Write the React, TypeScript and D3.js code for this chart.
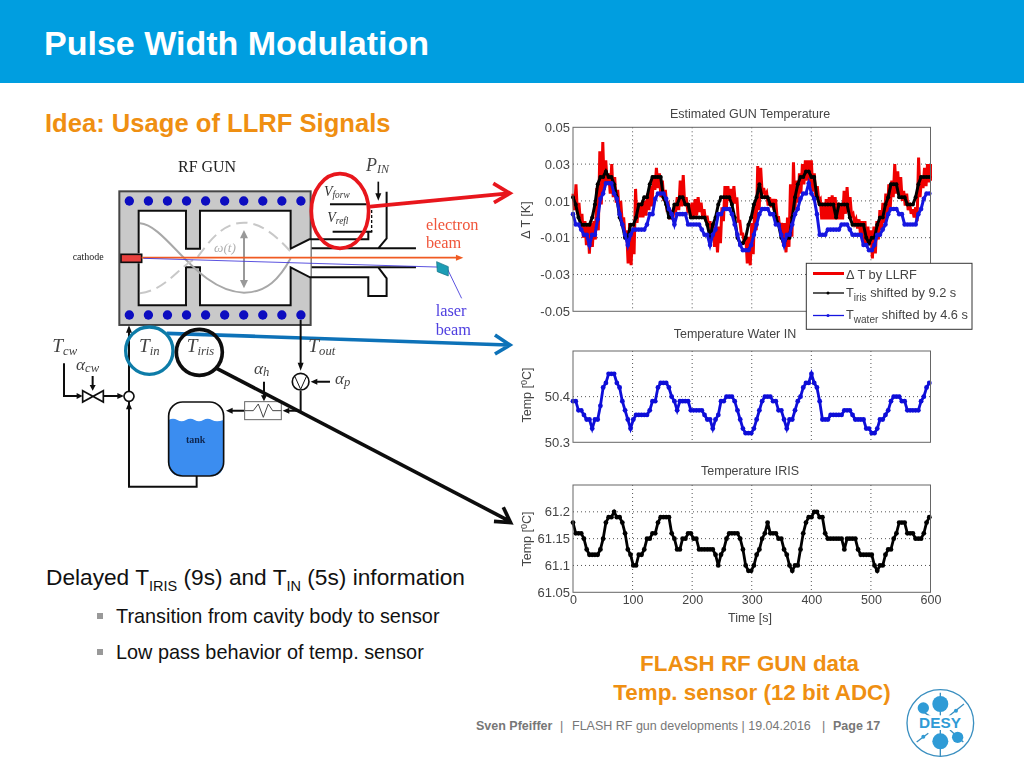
import React, { useEffect, useRef } from "react";
import * as d3 from "d3";

// sensor samples are 4.6 s apart, the LLRF envelope is read every 5 s
const sampleStep = 4.6;
const envelopeStep = 5;

const waterTemp = [
  50.39, 50.39, 50.37, 50.37, 50.36, 50.35, 50.35, 50.33, 50.35, 50.35, 50.38, 50.42, 50.43, 50.45, 50.45, 50.45, 50.43, 50.42, 50.39, 50.37,
  50.35, 50.33, 50.35, 50.36, 50.36, 50.36, 50.36, 50.36, 50.37, 50.39, 50.39, 50.42, 50.43, 50.43, 50.43, 50.42, 50.4, 50.39, 50.37, 50.39,
  50.39, 50.39, 50.39, 50.37, 50.37, 50.37, 50.37, 50.37, 50.36, 50.35, 50.35, 50.33, 50.35, 50.36, 50.39, 50.39, 50.4, 50.4, 50.4, 50.39,
  50.37, 50.35, 50.33, 50.32, 50.32, 50.32, 50.33, 50.35, 50.37, 50.39, 50.4, 50.4, 50.4, 50.39, 50.39, 50.37, 50.37, 50.35, 50.33, 50.35,
  50.35, 50.37, 50.39, 50.4, 50.42, 50.43, 50.43, 50.45, 50.43, 50.42, 50.39, 50.35, 50.35, 50.35, 50.36, 50.36, 50.36, 50.36, 50.36, 50.37,
  50.37, 50.37, 50.36, 50.35, 50.35, 50.35, 50.35, 50.33, 50.33, 50.32, 50.32, 50.33, 50.35, 50.35, 50.36, 50.37, 50.39, 50.4, 50.4, 50.4,
  50.39, 50.39, 50.37, 50.37, 50.37, 50.37, 50.37, 50.39, 50.4, 50.42, 50.43,
];

const irisTemp = [
  61.18, 61.16, 61.16, 61.16, 61.15, 61.13, 61.12, 61.12, 61.12, 61.12, 61.13, 61.15, 61.18, 61.19, 61.19, 61.2, 61.19, 61.19, 61.18, 61.16,
  61.13, 61.12, 61.1, 61.1, 61.12, 61.12, 61.13, 61.15, 61.15, 61.16, 61.16, 61.18, 61.19, 61.19, 61.19, 61.19, 61.16, 61.15, 61.13, 61.13,
  61.15, 61.15, 61.16, 61.16, 61.15, 61.15, 61.13, 61.13, 61.13, 61.13, 61.13, 61.13, 61.12, 61.1, 61.12, 61.13, 61.15, 61.16, 61.16, 61.16,
  61.16, 61.15, 61.13, 61.1, 61.09, 61.09, 61.1, 61.12, 61.13, 61.15, 61.16, 61.18, 61.16, 61.16, 61.16, 61.15, 61.15, 61.13, 61.12, 61.1,
  61.09, 61.1, 61.1, 61.13, 61.16, 61.18, 61.19, 61.19, 61.2, 61.2, 61.19, 61.19, 61.16, 61.15, 61.15, 61.15, 61.15, 61.15, 61.15, 61.13,
  61.15, 61.15, 61.15, 61.15, 61.13, 61.12, 61.12, 61.12, 61.12, 61.12, 61.1, 61.09, 61.1, 61.1, 61.12, 61.13, 61.13, 61.15, 61.16, 61.18,
  61.18, 61.18, 61.16, 61.16, 61.16, 61.15, 61.15, 61.15, 61.16, 61.18, 61.19,
];

const deltaIris = [
  0.012, 0.008, 0.001, -0.003, -0.003, -0.003, -0.003, 0.001, 0.008, 0.019, 0.023, 0.023, 0.026, 0.023, 0.023, 0.019, 0.012,
  0.001, -0.003, -0.01, -0.01, -0.003, -0.003, 0.001, 0.008, 0.008, 0.012, 0.012, 0.019, 0.023, 0.023, 0.023, 0.023, 0.012, 0.008, 0.001, 0.001,
  0.008, 0.008, 0.012, 0.012, 0.008, 0.008, 0.001, 0.001, 0.001, 0.001, 0.001, 0.001, -0.003, -0.01, -0.003, 0.001, 0.008, 0.012, 0.012, 0.012,
  0.012, 0.008, 0.001, -0.01, -0.013, -0.013, -0.01, -0.003, 0.001, 0.008, 0.012, 0.019, 0.012, 0.012, 0.012, 0.008, 0.008, 0.001, -0.003, -0.01,
  -0.013, -0.01, -0.01, 0.001, 0.012, 0.019, 0.023, 0.023, 0.026, 0.026, 0.023, 0.023, 0.012, 0.008, 0.008, 0.008, 0.008, 0.008, 0.008, 0.001,
  0.008, 0.008, 0.008, 0.008, 0.001, -0.003, -0.003, -0.003, -0.003, -0.003, -0.01, -0.013, -0.01, -0.01, -0.003, 0.001, 0.001, 0.008, 0.012, 0.019,
  0.019, 0.019, 0.012, 0.012, 0.012, 0.008, 0.008, 0.008, 0.012, 0.019, 0.023, 0.023, 0.023, 0.023,
];

const deltaWater = [
  0.0028, -0.0028, -0.0028, -0.0056, -0.0084, -0.0084, -0.014, -0.0084, -0.0084, 0, 0.0112, 0.014, 0.0196, 0.0196, 0.0196, 0.014, 0.0112, 0.0028, -0.0028, -0.0084,
  -0.014, -0.0084, -0.0056, -0.0056, -0.0056, -0.0056, -0.0056, -0.0028, 0.0028, 0.0028, 0.0112, 0.014, 0.014, 0.014, 0.0112, 0.0056, 0.0028, -0.0028, 0.0028, 0.0028,
  0.0028, 0.0028, -0.0028, -0.0028, -0.0028, -0.0028, -0.0028, -0.0056, -0.0084, -0.0084, -0.014, -0.0084, -0.0056, 0.0028, 0.0028, 0.0056, 0.0056, 0.0056, 0.0028, -0.0028,
  -0.0084, -0.014, -0.0168, -0.0168, -0.0168, -0.014, -0.0084, -0.0028, 0.0028, 0.0056, 0.0056, 0.0056, 0.0028, 0.0028, -0.0028, -0.0028, -0.0084, -0.014, -0.0084, -0.0084,
  -0.0028, 0.0028, 0.0056, 0.0112, 0.014, 0.014, 0.0196, 0.014, 0.0112, 0.0028, -0.0084, -0.0084, -0.0084, -0.0056, -0.0056, -0.0056, -0.0056, -0.0056, -0.0028, -0.0028,
  -0.0028, -0.0056, -0.0084, -0.0084, -0.0084, -0.0084, -0.014, -0.014, -0.0168, -0.0168, -0.014, -0.0084, -0.0084, -0.0056, -0.0028, 0.0028, 0.0056, 0.0056, 0.0056, 0.0028,
  0.0028, -0.0028, -0.0028, -0.0028, -0.0028, -0.0028, 0.0028, 0.0056, 0.0112, 0.014, 0.014,
];

const llrfHigh = [
  0.014, 0.019, 0.009, 0.003, -0.001, -0.002, -0.002, -0.001, 0.017, 0.037, 0.042, 0.032, 0.025, 0.03, 0.023, 0.016, 0.01, 0.001, -0.006, -0.002,
  -0.006, 0.0165, 0.009, 0.009, 0.01, 0.014, 0.018, 0.024, 0.028, 0.025, 0.021, 0.016, 0.008, 0.005, 0.0065, 0.012, 0.021, 0.024, 0.012, 0.0065,
  0.009, 0.011, 0.012, 0.009, 0.0055, 0.002, -0.001, -0.002, -0.004, -0.004, 0.0065, 0.018, 0.018, 0.0165, 0.018, 0.012, -0.001, -0.008, -0.0095, -0.0095,
  -0.002, 0.008, 0.029, 0.028, 0.017, 0.0145, 0.012, 0.011, 0.011, 0.001, -0.002, -0.002, 0.001, 0.019, 0.031, 0.021, 0.025, 0.03, 0.032, 0.032,
  0.032, 0.025, 0.018, 0.011, 0.009, 0.011, 0.012, 0.013, 0.012, 0.009, 0.0075, 0.0155, 0.0175, 0.012, 0.003, 0, 0, -0.001, -0.001, -0.004,
  -0.006, -0.004, -0.001, 0.005, 0.009, 0.014, 0.019, 0.021, 0.03, 0.026, 0.023, 0.0155, 0.014, 0.009, 0.0055, 0.0065, 0.0335, 0.023, 0.028, 0.03, 0.03,
];

const llrfLow = [
  0.005, 0.003, -0.002, -0.01, -0.014, -0.0187, -0.015, -0.011, -0.006, 0.008, 0.016, 0.019, 0.014, 0.012, 0.009, 0.005, -0.001, -0.01, -0.024, -0.025,
  -0.019, -0.002, 0.001, 0.001, 0.002, 0.005, 0.007, 0.016, 0.017, 0.012, 0.01, 0.0065, 0, 0, 0.005, 0.005, 0.007, 0.0075, 0.005, 0.001,
  0.001, 0.002, 0.004, 0.001, -0.001, -0.0035, -0.01, -0.015, -0.018, -0.013, -0.001, 0.0065, 0.01, 0.0085, 0.0085, -0.001, -0.008, -0.013, -0.024, -0.025,
  -0.019, -0.006, 0.005, 0.014, 0.013, 0.0075, 0.0065, 0.005, 0.001, -0.006, -0.013, -0.018, -0.015, -0.0095, 0.005, 0.009, 0.014, 0.019, 0.021, 0.017,
  0.015, 0.012, 0.01, 0, 0, 0, 0, 0, 0, 0, 0, 0.003, 0.004, 0.002, -0.002, -0.005, -0.008, -0.014, -0.0148, -0.014,
  -0.0213, -0.0186, -0.011, -0.006, -0.002, 0.001, 0.0065, 0.012, 0.014, 0.013, 0.01, 0.0075, 0.005, 0.003, 0.001, -0.001, 0.012, 0.017, 0.018, 0.02, 0.021,
];

const xTicks = [0, 100, 200, 300, 400, 500, 600];
const deltaTicks = [0.05, 0.03, 0.01, -0.01, -0.03, -0.05];
const waterTicks = [50.3, 50.4];
const irisTicks = [61.05, 61.1, 61.15, 61.2];

const plotLeft = 573;
const plotRight = 930.5;
const textGray = "#444";
const orange = "#ef8f12";

type PanelProps = {
  top: number;
  bottom: number;
  domain: [number, number];
  ticks: number[];
  showX?: boolean;
  draw: (g: any, x: any, y: any) => void;
};

function Panel({ top, bottom, domain, ticks, showX, draw }: PanelProps) {
  const ref = useRef<SVGGElement>(null);

  useEffect(() => {
    const g = d3.select(ref.current);
    g.selectAll("*").remove();

    const x = d3.scaleLinear().domain([0, 600]).range([plotLeft, plotRight]);
    const y = d3.scaleLinear().domain(domain).range([bottom, top]);

    // dotted grid first, the traces sit on top of it
    g.append("g")
      .selectAll("line")
      .data(xTicks.slice(1, -1))
      .join("line")
      .attr("x1", (d) => x(d))
      .attr("x2", (d) => x(d))
      .attr("y1", top)
      .attr("y2", bottom)
      .attr("stroke", "#555")
      .attr("stroke-dasharray", "1 3");
    g.append("g")
      .selectAll("line")
      .data(ticks.filter((d) => d !== domain[0] && d !== domain[1]))
      .join("line")
      .attr("x1", plotLeft)
      .attr("x2", plotRight)
      .attr("y1", (d) => y(d))
      .attr("y2", (d) => y(d))
      .attr("stroke", "#555")
      .attr("stroke-dasharray", "1 3");

    draw(g, x, y);

    g.append("rect")
      .attr("x", plotLeft)
      .attr("y", top)
      .attr("width", plotRight - plotLeft)
      .attr("height", bottom - top)
      .attr("fill", "none")
      .attr("stroke", "#666")
      .attr("stroke-width", 1);

    const yAxis = d3
      .axisLeft(y)
      .tickValues(ticks)
      .tickFormat((d) => String(d))
      .tickSize(0)
      .tickPadding(3);
    g.append("g")
      .attr("transform", `translate(${plotLeft},0)`)
      .call(yAxis)
      .call((a) => a.select(".domain").remove())
      .call((a) =>
        a.selectAll("text").attr("font-size", 13).attr("fill", textGray).attr("font-family", "Liberation Sans")
      );

    if (showX) {
      const xAxis = d3.axisBottom(x).tickValues(xTicks).tickSize(0).tickPadding(3);
      g.append("g")
        .attr("transform", `translate(0,${bottom})`)
        .call(xAxis)
        .call((a) => a.select(".domain").remove())
        .call((a) =>
          a.selectAll("text").attr("font-size", 12.5).attr("fill", textGray).attr("font-family", "Liberation Sans")
        );
    }
  }, []);

  return <g ref={ref} />;
}

function drawTrace(g: any, x: any, y: any, values: number[], color: string, width: number, r: number) {
  const line = d3
    .line<number>()
    .x((_, i) => x(i * sampleStep))
    .y((d) => y(d));
  g.append("path").attr("d", line(values)).attr("fill", "none").attr("stroke", color).attr("stroke-width", width);
  g.append("g")
    .selectAll("circle")
    .data(values)
    .join("circle")
    .attr("cx", (_: number, i: number) => x(i * sampleStep))
    .attr("cy", (d: number) => y(d))
    .attr("r", r)
    .attr("fill", color);
}

function drawLlrf(g: any, x: any, y: any) {
  // the LLRF estimate is very noisy, so it zigzags between its two envelopes
  const zigzag = llrfHigh.flatMap((hi, i) => [
    [i * envelopeStep, hi],
    [i * envelopeStep + envelopeStep / 2, llrfLow[i]],
  ]);
  const line = d3
    .line<number[]>()
    .x((d) => x(Math.min(d[0], 600)))
    .y((d) => y(d[1]));
  g.append("path").attr("d", line(zigzag)).attr("fill", "none").attr("stroke", "#f00000").attr("stroke-width", 3);
}

function Gun() {
  const black = "#111";
  const dots = d3.range(10).map((i) => 268 + i * 57.2);
  return (
    <g transform="translate(40,150) scale(0.3333)" fontFamily="Liberation Serif">
      <text x={414} y={67} fontSize={48} fill="#222">RF GUN</text>
      <rect x={238} y={124} width={574} height={401} fill="#c9c9c9" stroke="#444" strokeWidth={6} />
      <polygon points="296,182 438,182 438,296 480,296 480,182 752,182 752,296 812,268 812,382 752,352 752,466 480,466 480,352 438,352 438,466 296,466" fill="#fff" />
      <path d="M296,310 V182 H438 V296 H480 V182 H752 V296 L808,268 H985 V245 M296,340 V466 H438 V352 H480 V466 H752 V352 L810,382 H985 V438 H1040 V385 L1015,352 M815,295 H1128 M815,352 H1128 M1040,125 V265 L1015,295" fill="none" stroke={black} strokeWidth={6} />
      <path d="M870,163 H980 M878,245 H997" fill="none" stroke={black} strokeWidth={6} />
      <path d="M995,165 V245" fill="none" stroke={black} strokeWidth={4} strokeDasharray="9 6" />
      {dots.map((d) => (
        <g key={d}>
          <circle cx={d} cy={153} r={14} fill="#0a0ac0" />
          <circle cx={d} cy={495} r={14} fill="#0a0ac0" />
        </g>
      ))}
      <path d="M300,220 C380,225 470,425 612,428 C680,428 720,385 752,325" fill="none" stroke="#a8a8a8" strokeWidth={6} />
      <path d="M300,430 C380,420 420,345 470,325 C510,270 550,218 612,218 C670,218 720,270 752,305" fill="none" stroke="#c8c8c8" strokeWidth={6} strokeDasharray="34 18" />
      <path d="M612,255 V400" stroke="#999" strokeWidth={6} />
      <path d="M600,265 L612,240 L624,265 Z M600,390 L612,415 L624,390 Z" fill="#999" />
      <text x={522} y={305} fontSize={40} fontStyle="italic" fill="#b0b0b0">ω(t)</text>
      <rect x={243} y={313} width={62} height={24} fill="#e8403c" stroke={black} strokeWidth={5} />
      <text x={98} y={331} fontSize={30} fill="#222">cathode</text>
      <path d="M305,323 H1250" stroke="#f05a20" strokeWidth={5} />
      <path d="M1248,314 L1270,323 L1248,332 Z" fill="#f05a20" />
      <path d="M310,325 L1220,352 L1265,445" fill="none" stroke="#3a30d8" strokeWidth={2.5} />
      <polygon points="1190,335 1225,350 1225,378 1192,365" fill="#1f9db5" stroke="#0b6c80" strokeWidth={2} />
      <text x={1158} y={240} fontSize={49} fill="#f0553a">electron</text>
      <text x={1158} y={295} fontSize={49} fill="#f0553a">beam</text>
      <text x={1187} y={497} fontSize={49} fill="#5040e0">laser</text>
      <text x={1187} y={554} fontSize={49} fill="#5040e0">beam</text>
      <text x={852} y={138} fontSize={42} fontStyle="italic" fill="#333">V<tspan dy={6} fontSize={28}>forw</tspan></text>
      <text x={862} y={216} fontSize={42} fontStyle="italic" fill="#333">V<tspan dy={6} fontSize={28}>refl</tspan></text>
      <text x={978} y={62} fontSize={54} fontStyle="italic" fill="#444">P<tspan dy={8} fontSize={36}>IN</tspan></text>
      <path d="M1015,95 V135" stroke={black} strokeWidth={5} />
      <path d="M1006,130 L1015,152 L1024,130 Z" fill={black} />
      <ellipse cx={900} cy={183} rx={86} ry={112} fill="none" stroke="#e8141c" strokeWidth={11} />
      <path d="M990,170 L1405,130 M1360,100 L1410,130 L1362,158" fill="none" stroke="#e8141c" strokeWidth={11} />
      <path d="M380,550 L1405,585 M1365,555 L1410,585 L1365,612" fill="none" stroke="#0f72b8" strokeWidth={11} />
    </g>
  );
}

function Cooling() {
  const black = "#111";
  const math = { fontFamily: "Liberation Serif", fontStyle: "italic", fill: "#444" };
  return (
    <g transform="translate(40,320) scale(0.3333)">
      <path d="M267,214 V28 M267,245 V500 H470 V468 M782,0 V130 M782,212 V272 H745 M72,130 V228 H112 M190,228 H235 M158,168 V198 M672,185 V230 M870,185 H830 M612,272 H575" fill="none" stroke={black} strokeWidth={6} />
      <path d="M258,38 L267,16 L276,38 Z M258,268 L267,246 L276,268 Z M773,128 L782,152 L791,128 Z M110,219 L128,228 L110,237 Z M232,219 L252,228 L232,237 Z M149,195 L158,212 L167,195 Z M663,226 L672,244 L681,226 Z M832,176 L812,185 L832,194 Z M578,263 L558,272 L578,281 Z M748,263 L728,272 L748,281 Z" fill={black} />
      <path d="M128,212 L190,246 V212 L128,246 Z" fill="#fff" stroke={black} strokeWidth={5} />
      <circle cx={267} cy={229} r={15} fill="#fff" stroke={black} strokeWidth={5} />
      <circle cx={782} cy={185} r={25} fill="#fff" stroke={black} strokeWidth={5} />
      <path d="M764,168 L782,208 L800,168" fill="none" stroke={black} strokeWidth={3} />
      <rect x={614} y={245} width={110} height={54} fill="#fff" stroke="#666" strokeWidth={3} />
      <path d="M614,272 H640 L655,252 L670,292 L685,252 L698,272 H724" fill="none" stroke="#444" strokeWidth={3} />
      <rect x={386} y={246} width={165} height={222} rx={42} fill="#fff" stroke="none" />
      <path d="M386,300 Q399,292 412,300 T438,300 T464,300 T490,300 T516,300 T551,300 V428 Q551,468 511,468 H426 Q386,468 386,428 Z" fill="#3a8df0" />
      <rect x={386} y={246} width={165} height={222} rx={42} fill="none" stroke={black} strokeWidth={5} />
      <text x={438} y={368} fontFamily="Liberation Serif" fontWeight="bold" fontSize={30} fill="#10264f">tank</text>
      <text x={37} y={97} fontSize={58} {...math}>T<tspan dy={8} fontSize={38}>cw</tspan></text>
      <text x={108} y={150} fontSize={52} {...math}>α<tspan dy={6} fontSize={38}>cw</tspan></text>
      <text x={297} y={97} fontSize={58} {...math}>T<tspan dy={8} fontSize={38}>in</tspan></text>
      <text x={440} y={97} fontSize={58} {...math}>T<tspan dy={8} fontSize={38}>iris</tspan></text>
      <text x={805} y={97} fontSize={58} {...math}>T<tspan dy={8} fontSize={38}>out</tspan></text>
      <text x={642} y={162} fontSize={52} {...math}>α<tspan dy={6} fontSize={38}>h</tspan></text>
      <text x={885} y={192} fontSize={52} {...math}>α<tspan dy={6} fontSize={38}>p</tspan></text>
      <circle cx={328} cy={92} r={71} fill="none" stroke="#0f7ca8" strokeWidth={10} />
      <circle cx={478} cy={97} r={69} fill="none" stroke={black} strokeWidth={11} />
      <path d="M530,145 L1410,604 M1362,604 L1412,608 L1390,562" fill="none" stroke={black} strokeWidth={11} />
    </g>
  );
}

function DesyLogo() {
  const blue = "#2f9bd6";
  return (
    <g transform="translate(800,680) scale(0.3333)" fill={blue}>
      <circle cx={421} cy={129} r={100} fill="none" stroke="#3a8fc0" strokeWidth={4} />
      <path d="M421,38 V228 M350,186 L385,160 M447,108 L492,72 M355,86 L392,110 M450,150 L490,186" stroke="#3a8fc0" strokeWidth={4} />
      <circle cx={421} cy={72} r={24} />
      <circle cx={421} cy={184} r={24} />
      <circle cx={370} cy={84} r={17} />
      <circle cx={473} cy={172} r={17} />
      <circle cx={370} cy={170} r={6} />
      <circle cx={468} cy={92} r={6} />
      <rect x={346} y={106} width={150} height={44} fill="#fff" />
      <text x={420} y={145} textAnchor="middle" fontFamily="Liberation Sans" fontWeight="bold" fontSize={46}>DESY</text>
    </g>
  );
}

function App() {
  const sans = "Liberation Sans";
  return (
    <svg width={1024} height={768} style={{ position: "absolute", left: 0, top: 0, display: "block" }} fontFamily={sans}>
      <defs>
        <filter id="soft" x="-5%" y="-5%" width="110%" height="110%">
          <feGaussianBlur stdDeviation="0.4" />
        </filter>
      </defs>
      <rect width={1024} height={768} fill="#fff" />
      <rect width={1024} height={83} fill="#009ee0" />
      <text x={44} y={55} fontSize={34} fontWeight="bold" fill="#fff">Pulse Width Modulation</text>
      <text x={45} y={132} fontSize={25.6} fontWeight="bold" fill={orange}>Idea: Usage of LLRF Signals</text>

      <text x={46} y={585} fontSize={22.7} fill="#111">
        Delayed T<tspan dy={6} fontSize={14.5}>IRIS</tspan><tspan dy={-6}> (9s) and T</tspan><tspan dy={6} fontSize={14.5}>IN</tspan><tspan dy={-6}> (5s) information</tspan>
      </text>
      <rect x={97} y={613} width={6} height={6} fill="#999" />
      <text x={116} y={623} fontSize={19.85} fill="#111">Transition from cavity body to sensor</text>
      <rect x={97} y={649} width={6} height={6} fill="#999" />
      <text x={116} y={659} fontSize={19.85} fill="#111">Low pass behavior of temp. sensor</text>

      <g filter="url(#soft)">
        <Gun />
        <Cooling />
      </g>

      <g filter="url(#soft)">
        <Panel
          top={127.3}
          bottom={311.3}
          domain={[-0.05, 0.05]}
          ticks={deltaTicks}
          draw={(g, x, y) => {
            drawLlrf(g, x, y);
            drawTrace(g, x, y, deltaIris, "#000", 3, 2);
            drawTrace(g, x, y, deltaWater, "#1414e0", 3, 2.3);
          }}
        />
        <Panel
          top={351}
          bottom={442.3}
          domain={[50.3, 50.5]}
          ticks={waterTicks}
          draw={(g, x, y) => drawTrace(g, x, y, waterTemp, "#0a0ad8", 2.8, 2.4)}
        />
        <Panel
          top={485}
          bottom={592.3}
          domain={[61.05, 61.25]}
          ticks={irisTicks}
          showX
          draw={(g, x, y) => drawTrace(g, x, y, irisTemp, "#000", 2.8, 2.4)}
        />

        <g fill={textGray} fontSize={12.5} textAnchor="middle">
          <text x={750} y={118}>Estimated GUN Temperature</text>
          <text x={735} y={338}>Temperature Water IN</text>
          <text x={750} y={475}>Temperature IRIS</text>
          <text x={750} y={622}>Time [s]</text>
          <text transform="translate(530,220) rotate(-90)">Δ T [K]</text>
          <text transform="translate(531,395) rotate(-90)">Temp [<tspan dy={-4} fontSize={9}>0</tspan><tspan dy={4}>C]</tspan></text>
          <text transform="translate(531,539) rotate(-90)">Temp [<tspan dy={-4} fontSize={9}>0</tspan><tspan dy={4}>C]</tspan></text>
        </g>

        {/* legend of the top panel */}
        <g>
          <rect x={806.3} y={263.3} width={165.7} height={66} fill="#fff" stroke="#333" strokeWidth={1} />
          <path d="M813,273.5 H844" stroke="#f00000" strokeWidth={3} />
          <path d="M813,293 H844" stroke="#000" strokeWidth={1.3} />
          <circle cx={828} cy={293} r={1.5} fill="#000" />
          <path d="M813,315.5 H844" stroke="#1414e0" strokeWidth={1.3} />
          <circle cx={828} cy={315.5} r={1.5} fill="#1414e0" />
          <g fill={textGray} fontSize={12.8}>
            <text x={846} y={279}>Δ T by LLRF</text>
            <text x={846} y={297}>T<tspan dy={4} fontSize={10}>iris</tspan><tspan dy={-4}> shifted by 9.2 s</tspan></text>
            <text x={846} y={319}>T<tspan dy={4} fontSize={10}>water</tspan><tspan dy={-4}> shifted by 4.6 s</tspan></text>
          </g>
        </g>
      </g>

      <g fontSize={22.4} fontWeight="bold" fill={orange} textAnchor="middle">
        <text x={749.5} y={671}>FLASH RF GUN data</text>
        <text x={752} y={700}>Temp. sensor (12 bit ADC)</text>
      </g>

      <g fontSize={12.5} fill="#777">
        <text x={476} y={730} fontWeight="bold">Sven Pfeiffer</text>
        <text x={560} y={730}>|</text>
        <text x={572} y={730}>FLASH RF gun developments | 19.04.2016</text>
        <text x={822} y={730}>|</text>
        <text x={833} y={730} fontWeight="bold">Page 17</text>
      </g>
      <DesyLogo />
    </svg>
  );
}

export default App;
